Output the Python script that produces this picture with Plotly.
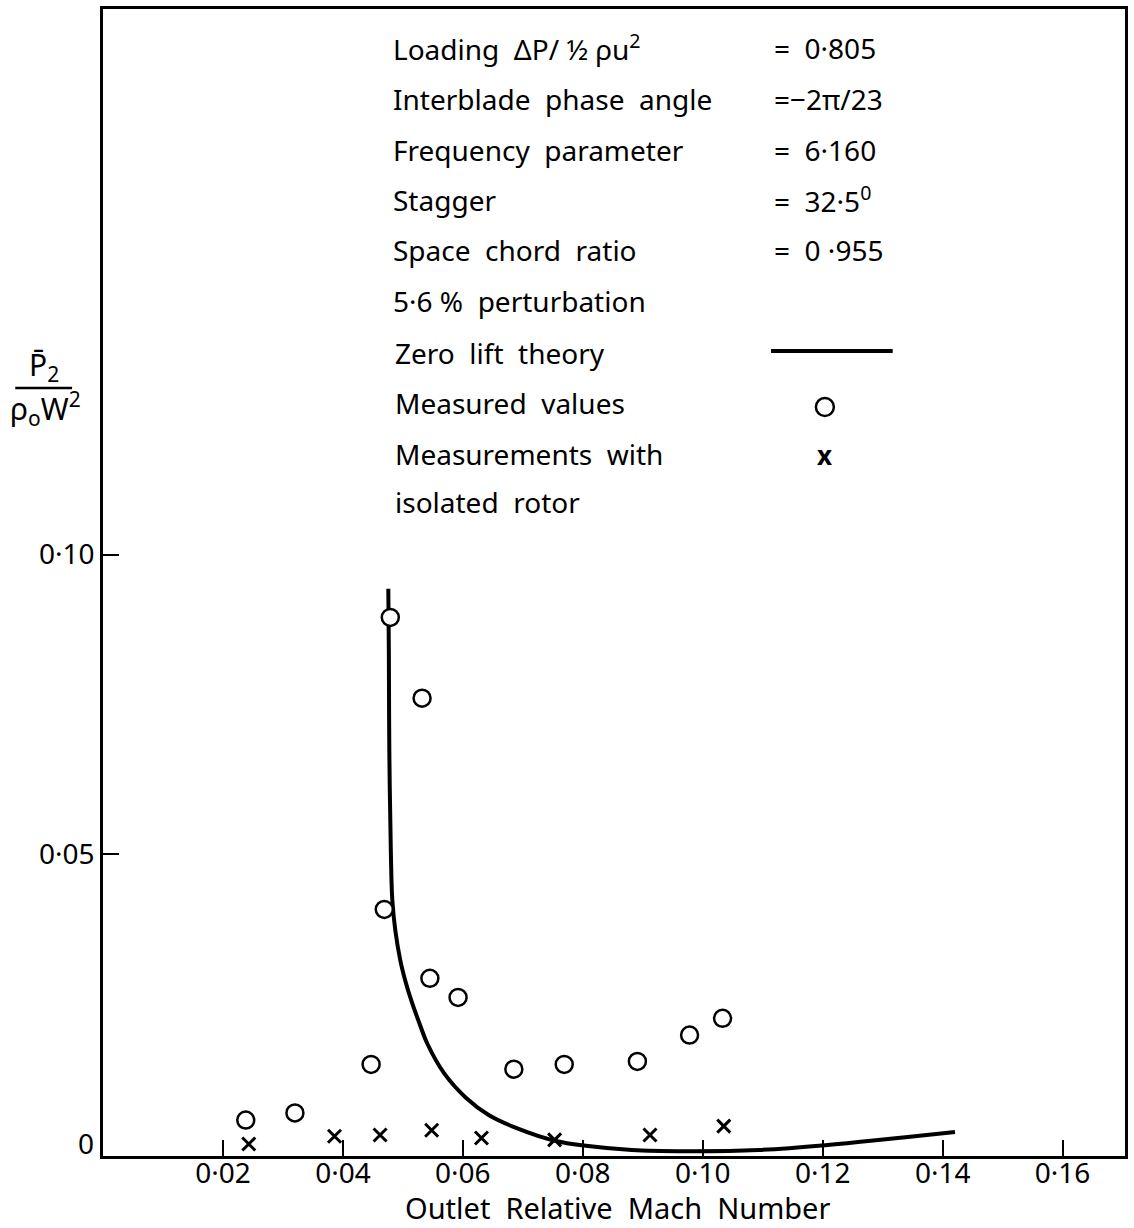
import plotly.graph_objects as go

# Outlet relative Mach number vs. non-dimensional pressure amplitude
theory_mach = [0.04757, 0.04766, 0.04774, 0.04799, 0.04824, 0.04874, 0.04957,
               0.05040, 0.05140, 0.05289, 0.05406, 0.05689, 0.06055, 0.06437,
               0.06886, 0.07552, 0.08051, 0.08816, 0.09714, 0.10928, 0.12043,
               0.14205]
theory_p2 = [0.0943, 0.0838, 0.0672, 0.0505, 0.0422, 0.0372, 0.0322,
             0.0288, 0.0255, 0.0213, 0.0183, 0.0133, 0.0092, 0.0063,
             0.0042, 0.0020, 0.0012, 0.0005, 0.0003, 0.0005, 0.0013,
             0.0035]

measured_mach = [0.0238, 0.0320, 0.0447, 0.0469, 0.0479, 0.0532, 0.0545,
                 0.0592, 0.0685, 0.0769, 0.0891, 0.0978, 0.1033]
measured_p2 = [0.0055, 0.0067, 0.0148, 0.0407, 0.0895, 0.0760, 0.0292,
               0.0260, 0.0140, 0.0148, 0.0153, 0.0197, 0.0225]

isolated_mach = [0.0243, 0.0386, 0.0462, 0.0548, 0.0631, 0.0753, 0.0912, 0.1035]
isolated_p2 = [0.0015, 0.0028, 0.0030, 0.0038, 0.0025, 0.0022, 0.0030, 0.0045]

x_ticks = [0.02, 0.04, 0.06, 0.08, 0.10, 0.12, 0.14, 0.16]
x_ticktext = ["0·02", "0·04", "0·06", "0·08", "0·10", "0·12", "0·14", "0·16"]
y_ticks = [0.05, 0.10]
y_ticktext = ["0·05", "0·10"]

SP = "\u00a0\u00a0"  # wide word gap
conditions = [
    ("Loading" + SP + "ΔP/\u00a0½\u00a0ρu<sup>2</sup>", "=\u00a0\u00a00·805"),
    ("Interblade" + SP + "phase" + SP + "angle", "=−2π/23"),
    ("Frequency" + SP + "parameter", "=\u00a0\u00a06·160"),
    ("Stagger", "=\u00a0\u00a032·5<sup>0</sup>"),
    ("Space" + SP + "chord" + SP + "ratio", "=\u00a0\u00a00\u00a0·955"),
    ("5·6\u00a0%" + SP + "perturbation", ""),
]
key_labels = ["Zero" + SP + "lift" + SP + "theory",
              "Measured" + SP + "values",
              "Measurements" + SP + "with",
              "isolated" + SP + "rotor"]
x_title = "Outlet" + SP + "Relative" + SP + "Mach" + SP + "Number"

FONT = "Noto Sans"
W, H = 1134, 1228
L, R, T, B = 103, 1128, 6, 1156


def fx(p):
    return (p - L) / (R - L)


def fy(p):
    return (B - p) / (B - T)


fig = go.Figure()

fig.add_trace(go.Scatter(
    x=theory_mach, y=theory_p2, mode="lines",
    line=dict(color="black", width=4, shape="spline", smoothing=1.0),
    showlegend=False, hoverinfo="skip"))

fig.add_trace(go.Scatter(
    x=measured_mach, y=measured_p2, mode="markers",
    marker=dict(symbol="circle", size=17, color="white",
                line=dict(color="black", width=2.5)),
    showlegend=False))

fig.add_trace(go.Scatter(
    x=isolated_mach, y=isolated_p2, mode="markers",
    marker=dict(symbol="x-thin", size=13,
                line=dict(color="black", width=3)),
    showlegend=False))

annotations = []
row_y = [45, 96, 147, 197, 248, 299]
for (label, value), yy in zip(conditions, row_y):
    annotations.append(dict(text=label, x=fx(392), y=fy(yy), xref="paper", yref="paper",
                            xanchor="left", yanchor="middle", showarrow=False,
                            font=dict(family=FONT, size=28, color="black")))
    if value:
        annotations.append(dict(text=value, x=fx(774), y=fy(yy), xref="paper", yref="paper",
                                xanchor="left", yanchor="middle", showarrow=False,
                                font=dict(family=FONT, size=28, color="black")))

for label, yy in zip(key_labels, [351, 401, 452, 500]):
    annotations.append(dict(text=label, x=fx(394), y=fy(yy), xref="paper", yref="paper",
                            xanchor="left", yanchor="middle", showarrow=False,
                            font=dict(family=FONT, size=28, color="black")))

# key symbol for isolated rotor measurements
annotations.append(dict(text="<b>x</b>", x=fx(827), y=fy(453), xref="paper", yref="paper",
                        xanchor="center", yanchor="middle", showarrow=False,
                        font=dict(family=FONT, size=26, color="black")))

# zero label on the vertical axis
annotations.append(dict(text="0", x=fx(86), y=fy(1143), xref="paper", yref="paper",
                        xanchor="center", yanchor="middle", showarrow=False,
                        font=dict(family=FONT, size=28, color="black")))

# vertical axis title as a stacked fraction
annotations.append(dict(text="P̄<sub>2</sub>", x=fx(44), y=fy(364), xref="paper", yref="paper",
                        xanchor="center", yanchor="middle", showarrow=False,
                        font=dict(family=FONT, size=30, color="black")))
annotations.append(dict(text="ρ<sub>o</sub>W<sup>2</sup>", x=fx(45), y=fy(407), xref="paper",
                        yref="paper", xanchor="center", yanchor="middle", showarrow=False,
                        font=dict(family=FONT, size=30, color="black")))

annotations.append(dict(text=x_title, x=fx(619), y=fy(1208),
                        xref="paper", yref="paper", xanchor="center", yanchor="middle",
                        showarrow=False, font=dict(family=FONT, size=29, color="black")))

shapes = [
    # fraction bar
    dict(type="line", xref="paper", yref="paper", x0=fx(15), x1=fx(72),
         y0=fy(386), y1=fy(386), line=dict(color="black", width=2.5)),
    # key line for theory
    dict(type="line", xref="paper", yref="paper", x0=fx(773), x1=fx(895),
         y0=fy(349), y1=fy(349), line=dict(color="black", width=4)),
    # key circle for measured values
    dict(type="circle", xref="paper", yref="paper", x0=fx(818), x1=fx(836),
         y0=fy(414), y1=fy(396), line=dict(color="black", width=2.5)),
]

fig.update_layout(
    width=W, height=H,
    margin=dict(l=L, r=W - R, t=T, b=H - B),
    paper_bgcolor="white", plot_bgcolor="white",
    font=dict(family=FONT, size=27, color="black"),
    annotations=annotations, shapes=shapes,
    showlegend=False,
)

fig.update_xaxes(
    range=[0, 0.1704], tickvals=x_ticks, ticktext=x_ticktext,
    ticks="inside", ticklen=16, tickwidth=2, tickcolor="black",
    ticklabelstandoff=-9,
    showline=True, mirror=True, linecolor="black", linewidth=2.5,
    showgrid=False, zeroline=False,
    tickfont=dict(family=FONT, size=28, color="black"),
)
fig.update_yaxes(
    range=[-0.0005, 0.19117], tickvals=y_ticks, ticktext=y_ticktext,
    ticks="inside", ticklen=16, tickwidth=2, tickcolor="black",
    showline=True, mirror=True, linecolor="black", linewidth=2.5,
    showgrid=False, zeroline=False,
    tickfont=dict(family=FONT, size=28, color="black"),
)

fig.write_html("out.html")
